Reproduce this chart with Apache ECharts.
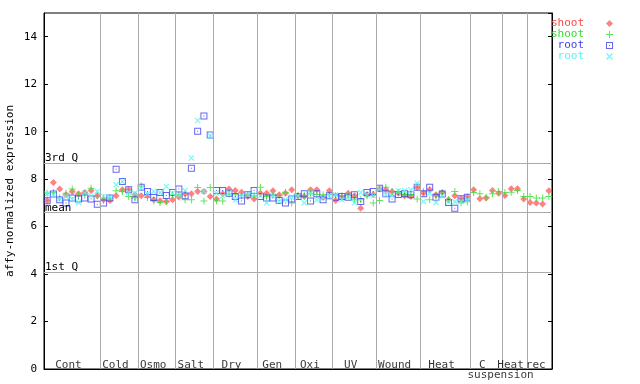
<!DOCTYPE html>
<html><head><meta charset="utf-8">
<script src="https://cdn.jsdelivr.net/npm/echarts@6/dist/echarts.min.js"></script>
<style>html,body{margin:0;padding:0;background:#fff}#c{width:640px;height:384px}</style>
</head><body><div id="c"></div>
<script>
const categories = ['Cont','Cold','Osmo','Salt','Dry','Gen','Oxi','UV','Wound','Heat','C','Heat','rec'];
const groupSizes = [9,6,6,6,7,6,6,7,7,8,5,4,4];
const extraLabel = 'suspension';
const shootRed = [7.09,7.86,7.58,7.34,7.48,7.38,7.44,7.52,7.30,
 7.13,7.10,7.30,7.55,7.55,7.34,
 7.30,7.30,7.13,7.09,7.06,7.13,
 7.25,7.38,7.38,7.48,7.48,7.27,
 7.16,7.38,7.58,7.52,7.45,7.27,7.16,
 7.41,7.41,7.51,7.34,7.41,7.55,
 7.30,7.27,7.55,7.55,7.24,7.51,
 7.10,7.24,7.41,7.30,6.77,7.35,7.35,
 7.58,7.55,7.48,7.41,7.30,7.27,7.66,
 7.40,7.55,7.34,7.44,7.13,7.30,7.17,7.25,
 7.55,7.17,7.20,7.52,7.41,
 7.31,7.59,7.59,7.16,
 7.02,6.99,6.95,7.51];
const shootGreen = [7.41,7.44,7.20,7.41,7.58,7.31,7.37,7.62,7.30,
 7.20,7.20,7.51,7.48,7.27,7.20,
 7.71,7.23,7.09,7.02,7.06,7.34,
 7.34,7.13,7.13,7.65,7.08,7.65,
 7.09,7.08,7.37,7.34,7.30,7.34,7.30,
 7.66,7.27,7.34,7.30,7.45,6.99,
 7.30,7.30,7.41,7.35,7.34,7.34,
 7.30,7.30,7.30,7.13,7.13,7.30,6.99,
 7.10,7.66,7.48,7.45,7.35,7.35,7.16,
 7.48,7.13,7.30,7.40,7.13,7.48,7.00,7.05,
 7.44,7.38,7.24,7.38,7.48,
 7.44,7.45,7.52,7.27,
 7.27,7.20,7.20,7.27];
const rootBlue = [7.09,7.37,7.13,6.99,7.20,7.16,7.20,7.16,6.94,
 6.99,7.20,8.42,7.90,7.55,7.13,
 7.66,7.48,7.23,7.44,7.31,7.44,
 7.58,7.30,8.46,10.02,10.66,9.86,
 7.52,7.52,7.41,7.27,7.08,7.34,7.52,
 7.27,7.20,7.20,7.10,6.99,7.16,
 7.27,7.38,7.08,7.38,7.13,7.30,
 7.24,7.27,7.24,7.34,7.06,7.44,7.48,
 7.62,7.38,7.16,7.35,7.38,7.34,7.66,
 7.38,7.66,7.24,7.37,7.02,6.77,7.17,7.24];
const rootCyan = [7.38,7.34,7.17,7.27,7.16,7.02,7.41,7.30,7.48,
 7.27,7.23,7.76,7.90,7.44,7.41,
 7.62,7.38,7.48,7.44,7.69,7.41,
 7.31,7.52,8.89,10.47,7.48,9.82,
 7.41,7.30,7.44,7.13,7.30,7.34,7.34,
 7.30,6.99,7.30,7.06,7.13,7.25,
 7.30,7.00,7.41,7.13,7.20,7.30,
 7.34,7.13,7.27,7.00,7.44,7.34,7.30,
 7.58,7.35,7.30,7.51,7.51,7.55,7.83,
 7.06,7.40,7.02,7.30,7.05,7.05,7.05,7.13];
const refNames = ['3rd Q','mean','1st Q'];
const refValues = [8.68, 6.60, 4.09];
const yTickStep = 2;

const FONT = 'DejaVu Sans Mono';
const nTotal = groupSizes.reduce((a,b)=>a+b,0);
const bounds = []; let acc = 0;
const centers = [];
groupSizes.forEach((g,i)=>{ centers.push(acc + g/2 - 0.6); acc += g; if (i < groupSizes.length-1) bounds.push(acc); });
const toPts = arr => arr.map((v,i)=>[i+0.5, v]);

const SQ = 'path://M0,0H7V7H0Z M1,1V6H6V1Z M3,3H4V4H3Z';
const PLUS = 'path://M3,0H4V3H7V4H4V7H3V4H0V3H3Z';
const CROSS = 'path://M0,1L1,0L7,6L6,7Z M0,6L6,0L7,1L1,7Z';
const RED = '#ff4848', GREEN = '#33e033', BLUE = '#4040f0', CYAN = '#55f5f5';

const labelData = categories.map((c,i)=>({name:c, value:[centers[i], 0]}));
const cIdx = categories.indexOf('C');
labelData.push({name: extraLabel, value:[centers[cIdx] + 2.9, 0], label:{offset:[0,6]}});

const chart = echarts.init(document.getElementById('c'), null, {renderer:'canvas'});
chart.setOption({
  animation:false,
  backgroundColor:'#fff',
  grid:{left:44, right:88, top:13, bottom:15, show:true, borderColor:'#000', borderWidth:1, containLabel:false, outerBoundsMode:'none'},
  legend:{
    orient:'vertical', right:27, top:18, align:'right', padding:0, itemGap:0,
    itemWidth:7, itemHeight:7,
    formatter: n => n.replace(/\s+$/,''),
    textStyle:{fontFamily:FONT, fontSize:11, lineHeight:11, padding:[0,17,0,0]},
    data:[
      {name:'shoot', icon:'diamond', textStyle:{color:RED}},
      {name:'shoot ', icon:PLUS, textStyle:{color:GREEN}},
      {name:'root', icon:SQ, textStyle:{color:BLUE}},
      {name:'root ', icon:CROSS, textStyle:{color:CYAN}}
    ]
  },
  xAxis:{type:'value', min:0, max:nTotal, axisLine:{show:true, lineStyle:{color:'#000'}}, axisTick:{show:false}, axisLabel:{show:false}, splitLine:{show:false}},
  yAxis:[
    {type:'value', min:0, max:15, interval:yTickStep, position:'left',
     name:'affy-normalized expression', nameLocation:'middle', nameGap:28, nameMoveOverlap:false,
     nameTextStyle:{fontFamily:FONT, fontSize:11, color:'#000'},
     axisLine:{show:true, lineStyle:{color:'#000'}},
     axisTick:{show:true, inside:true, length:4, lineStyle:{color:'#000'}},
     axisLabel:{fontFamily:FONT, fontSize:11, color:'#000', margin:7, showMaxLabel:false},
     splitLine:{show:false}},
    {type:'value', min:0, max:15, interval:yTickStep, position:'right',
     axisLine:{show:true, lineStyle:{color:'#000'}},
     axisTick:{show:true, inside:true, length:4, lineStyle:{color:'#000'}},
     axisLabel:{show:false}, splitLine:{show:false}}
  ],
  series:[
    {type:'scatter', name:'guides', data:[], z:1, silent:true,
     markLine:{silent:true, symbol:'none', animation:false,
       lineStyle:{color:'#aaaaaa', type:'solid', width:1},
       label:{show:false},
       data: bounds.map(b=>({xAxis:b})).concat(refValues.map((v,i)=>({yAxis:v, name:refNames[i],
         label:{show:true, position:'insideStartTop', formatter:'{b}', distance:[1,-1], fontFamily:FONT, fontSize:11, color:'#000'}})))
     }},
    {type:'scatter', name:'shoot', data:toPts(shootRed), symbol:'diamond', symbolSize:7,
     itemStyle:{color:'rgba(255,60,60,0.8)'}, z:2},
    {type:'scatter', name:'shoot ', data:toPts(shootGreen), symbol:PLUS, symbolSize:7,
     itemStyle:{color:GREEN}, z:3},
    {type:'scatter', name:'root', data:toPts(rootBlue), symbol:SQ, symbolSize:7,
     itemStyle:{color:BLUE}, z:4},
    {type:'scatter', name:'root ', data:toPts(rootCyan), symbol:CROSS, symbolSize:6,
     itemStyle:{color:CYAN}, z:5},
    {type:'scatter', name:'groups', data:labelData, symbolSize:0, silent:true, clip:false, z:6,
     label:{show:true, position:'inside', offset:[0,-4], formatter:'{b}', fontFamily:FONT, fontSize:11, color:'#000'}}
  ]
});
</script></body></html>
